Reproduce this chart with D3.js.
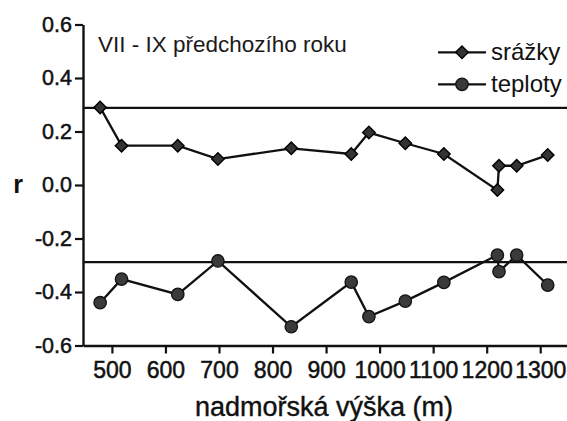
<!DOCTYPE html>
<html>
<head>
<meta charset="utf-8">
<script src="https://cdn.jsdelivr.net/npm/d3@7"></script>
<style>
  html, body { margin: 0; padding: 0; background: #fff; }
  svg { display: block; font-family: "Liberation Sans", Arial, Helvetica, sans-serif; }
</style>
</head>
<body>
<svg id="chart" width="567" height="421"></svg>
<script>
// Elevation of each site (m) and correlation coefficients r
const elevations = [478, 518, 623, 698, 835, 947, 980, 1048, 1120, 1220, 1223, 1256, 1314];
const srazky     = [0.29, 0.147, 0.147, 0.097, 0.137, 0.116, 0.196, 0.156, 0.116, -0.019, 0.072, 0.072, 0.112];
const teploty    = [-0.44, -0.352, -0.409, -0.284, -0.53, -0.363, -0.492, -0.434, -0.364, -0.262, -0.324, -0.262, -0.374];

// Significance thresholds
const thresholds = [0.288, -0.288];

// Axis ticks
const xTicks = [500, 600, 700, 800, 900, 1000, 1100, 1200, 1300];
const yTicks = [-0.6, -0.4, -0.2, 0.0, 0.2, 0.4, 0.6];
const yTickLabels = ["-0.6", "-0.4", "-0.2", "0.0", "0.2", "0.4", "0.6"];

const seriesNames = ["srážky", "teploty"];

const svg = d3.select("#chart");

const x = d3.scaleLinear().domain([446, 1350]).range([83, 567]);
const y = d3.scaleLinear().domain([-0.6, 0.6]).range([345.5, 24.5]);

const ink = "#111";

// Axes
const xAxis = svg.append("g")
  .attr("transform", `translate(0,${y(-0.6)})`)
  .call(d3.axisBottom(x).tickValues(xTicks).tickSize(8).tickSizeOuter(0).tickPadding(8)
    .tickFormat(d3.format("d")));
xAxis.select(".domain").attr("stroke", ink).attr("stroke-width", 2.4);
xAxis.selectAll(".tick line").attr("stroke", ink).attr("stroke-width", 2.2);
xAxis.selectAll(".tick text").attr("font-size", 23).attr("fill", ink)
  .attr("stroke", ink).attr("stroke-width", 0.5)
  .attr("font-family", "Liberation Sans, Arial, sans-serif");

const yAxis = svg.append("g")
  .attr("transform", `translate(${x(446)},0)`)
  .call(d3.axisLeft(y).tickValues(yTicks).tickSize(8).tickSizeOuter(0).tickPadding(3)
    .tickFormat((d, i) => yTickLabels[i]));
yAxis.select(".domain").attr("stroke", ink).attr("stroke-width", 2.4);
yAxis.selectAll(".tick line").attr("stroke", ink).attr("stroke-width", 2.2);
yAxis.selectAll(".tick text").attr("font-size", 21.5).attr("fill", ink)
  .attr("stroke", ink).attr("stroke-width", 0.5)
  .attr("font-family", "Liberation Sans, Arial, sans-serif");

// Axis titles
svg.append("text")
  .attr("x", 324).attr("y", 416)
  .attr("text-anchor", "middle")
  .attr("font-size", 27)
  .attr("fill", ink).attr("stroke", ink).attr("stroke-width", 0.4)
  .text("nadmořská výška (m)");

svg.append("text")
  .attr("x", 18).attr("y", y(0) + 8)
  .attr("text-anchor", "middle")
  .attr("font-size", 25)
  .attr("font-weight", "bold")
  .attr("fill", ink)
  .text("r");

// Threshold lines
svg.selectAll("line.threshold")
  .data(thresholds)
  .join("line")
  .attr("class", "threshold")
  .attr("x1", x(446)).attr("x2", x(1350))
  .attr("y1", d => y(d)).attr("y2", d => y(d))
  .attr("stroke", ink).attr("stroke-width", 2.3);

// Period note
svg.append("text")
  .attr("x", 98).attr("y", 52)
  .attr("font-size", 22.5)
  .attr("fill", "#1a1a1a")
  .text("VII - IX předchozího roku");

const line = d3.line().x((d, i) => x(elevations[i])).y(d => y(d));

const diamond = d3.symbol().type(d3.symbolDiamond2).size(100);

// Precipitation series
svg.append("path")
  .datum(srazky)
  .attr("d", line)
  .attr("fill", "none").attr("stroke", ink).attr("stroke-width", 2.3);
svg.selectAll("path.srazky")
  .data(srazky)
  .join("path")
  .attr("class", "srazky")
  .attr("transform", (d, i) => `translate(${x(elevations[i])},${y(d)})`)
  .attr("d", diamond)
  .attr("fill", "#333").attr("stroke", "#000").attr("stroke-width", 1.4);

// Temperature series
svg.append("path")
  .datum(teploty)
  .attr("d", line)
  .attr("fill", "none").attr("stroke", ink).attr("stroke-width", 2.3);
svg.selectAll("circle.teploty")
  .data(teploty)
  .join("circle")
  .attr("class", "teploty")
  .attr("cx", (d, i) => x(elevations[i]))
  .attr("cy", d => y(d))
  .attr("r", 6.2)
  .attr("fill", "#3a3a3a").attr("stroke", "#111").attr("stroke-width", 1.3);

// Legend
const legend = svg.append("g");
const rows = [52.3, 84.3];
seriesNames.forEach((name, i) => {
  const g = legend.append("g").attr("transform", `translate(0,${rows[i]})`);
  g.append("line").attr("x1", 438).attr("x2", 486).attr("y1", 0).attr("y2", 0)
    .attr("stroke", ink).attr("stroke-width", 2.3);
  if (i === 0) {
    g.append("path").attr("transform", "translate(462,0)").attr("d", diamond)
      .attr("fill", "#333").attr("stroke", "#000").attr("stroke-width", 1.4);
  } else {
    g.append("circle").attr("cx", 462).attr("cy", 0).attr("r", 6.2)
      .attr("fill", "#3a3a3a").attr("stroke", "#111").attr("stroke-width", 1.3);
  }
  g.append("text").attr("x", 491).attr("y", 7.5)
    .attr("font-size", 24)
    .attr("fill", ink)
    .text(name);
});
</script>
</body>
</html>
